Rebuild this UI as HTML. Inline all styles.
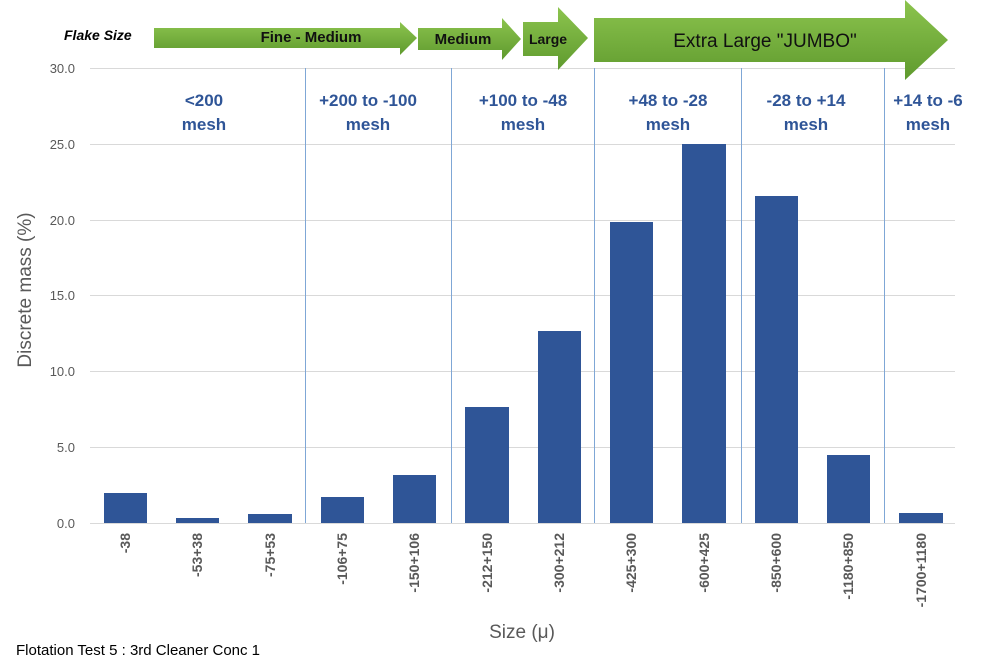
<!DOCTYPE html>
<html><head><meta charset="utf-8"><style>
body{margin:0;background:#fff;}
svg{display:block;font-family:"Liberation Sans",sans-serif;}
</style></head><body>
<svg width="1000" height="670" viewBox="0 0 1000 670">
<defs><linearGradient id="g" x1="0" y1="0" x2="0" y2="1"><stop offset="0" stop-color="#8cc44e"/><stop offset="1" stop-color="#5f9a2e"/></linearGradient></defs>
<g stroke="#d9d9d9" stroke-width="1">
<line x1="90" y1="68.5" x2="955" y2="68.5"/>
<line x1="90" y1="144.5" x2="955" y2="144.5"/>
<line x1="90" y1="220.5" x2="955" y2="220.5"/>
<line x1="90" y1="295.5" x2="955" y2="295.5"/>
<line x1="90" y1="371.5" x2="955" y2="371.5"/>
<line x1="90" y1="447.5" x2="955" y2="447.5"/>
<line x1="90" y1="523.5" x2="955" y2="523.5"/>
</g>
<g stroke="#7fa7d6" stroke-width="1">
<line x1="305.5" y1="68" x2="305.5" y2="523"/>
<line x1="451.5" y1="68" x2="451.5" y2="523"/>
<line x1="594.5" y1="68" x2="594.5" y2="523"/>
<line x1="741.5" y1="68" x2="741.5" y2="523"/>
<line x1="884.5" y1="68" x2="884.5" y2="523"/>
</g>
<g fill="#2f5597">
<rect x="104" y="493" width="43" height="30"/>
<rect x="176" y="518" width="43" height="5"/>
<rect x="248" y="514" width="44" height="9"/>
<rect x="321" y="497" width="43" height="26"/>
<rect x="393" y="475" width="43" height="48"/>
<rect x="465" y="407" width="44" height="116"/>
<rect x="538" y="331" width="43" height="192"/>
<rect x="610" y="222" width="43" height="301"/>
<rect x="682" y="144" width="44" height="379"/>
<rect x="755" y="196" width="43" height="327"/>
<rect x="827" y="455" width="43" height="68"/>
<rect x="899" y="513" width="44" height="10"/>
</g>
<g font-size="13" fill="#595959" text-anchor="end">
<text x="75" y="73">30.0</text><text x="75" y="149">25.0</text><text x="75" y="225">20.0</text>
<text x="75" y="300">15.0</text><text x="75" y="376">10.0</text><text x="75" y="452">5.0</text><text x="75" y="528">0.0</text>
</g>
<g font-size="14" font-weight="bold" fill="#595959" text-anchor="end">
<text transform="translate(130,533) rotate(-90)">-38</text>
<text transform="translate(202,533) rotate(-90)">-53+38</text>
<text transform="translate(275,533) rotate(-90)">-75+53</text>
<text transform="translate(347,533) rotate(-90)">-106+75</text>
<text transform="translate(419,533) rotate(-90)">-150+106</text>
<text transform="translate(492,533) rotate(-90)">-212+150</text>
<text transform="translate(564,533) rotate(-90)">-300+212</text>
<text transform="translate(636,533) rotate(-90)">-425+300</text>
<text transform="translate(709,533) rotate(-90)">-600+425</text>
<text transform="translate(781,533) rotate(-90)">-850+600</text>
<text transform="translate(853,533) rotate(-90)">-1180+850</text>
<text transform="translate(926,533) rotate(-90)">-1700+1180</text>
</g>
<text transform="translate(31,290) rotate(-90)" font-size="19" fill="#595959" text-anchor="middle">Discrete mass (%)</text>
<text x="522" y="638" font-size="19" fill="#595959" text-anchor="middle">Size (μ)</text>
<text x="16" y="655" font-size="15" fill="#000">Flotation Test 5 : 3rd Cleaner Conc 1</text>
<g font-size="17" font-weight="bold" fill="#2f5597" text-anchor="middle">
<text x="204" y="106">&lt;200</text><text x="204" y="130">mesh</text>
<text x="368" y="106">+200 to -100</text><text x="368" y="130">mesh</text>
<text x="523" y="106">+100 to -48</text><text x="523" y="130">mesh</text>
<text x="668" y="106">+48 to -28</text><text x="668" y="130">mesh</text>
<text x="806" y="106">-28 to +14</text><text x="806" y="130">mesh</text>
<text x="928" y="106">+14 to -6</text><text x="928" y="130">mesh</text>
</g>
<g fill="url(#g)">
<polygon points="154,28 400,28 400,22 417,38 400,55 400,48 154,48"/>
<polygon points="418,28 502,28 502,18 521,39 502,60 502,50 418,50"/>
<polygon points="523,22 558,22 558,7 588,38 558,70 558,56 523,56"/>
<polygon points="594,18 905,18 905,0 948,40 905,80 905,62 594,62"/>
</g>
<text x="64" y="40" font-size="14" font-weight="bold" font-style="italic" fill="#000">Flake Size</text>
<g font-weight="bold" fill="#111" text-anchor="middle">
<text x="311" y="42" font-size="15">Fine - Medium</text>
<text x="463" y="44" font-size="15">Medium</text>
<text x="548" y="44" font-size="14">Large</text>
<text x="765" y="47" font-size="19" font-weight="normal">Extra Large "JUMBO"</text>
</g>
</svg>
</body></html>
